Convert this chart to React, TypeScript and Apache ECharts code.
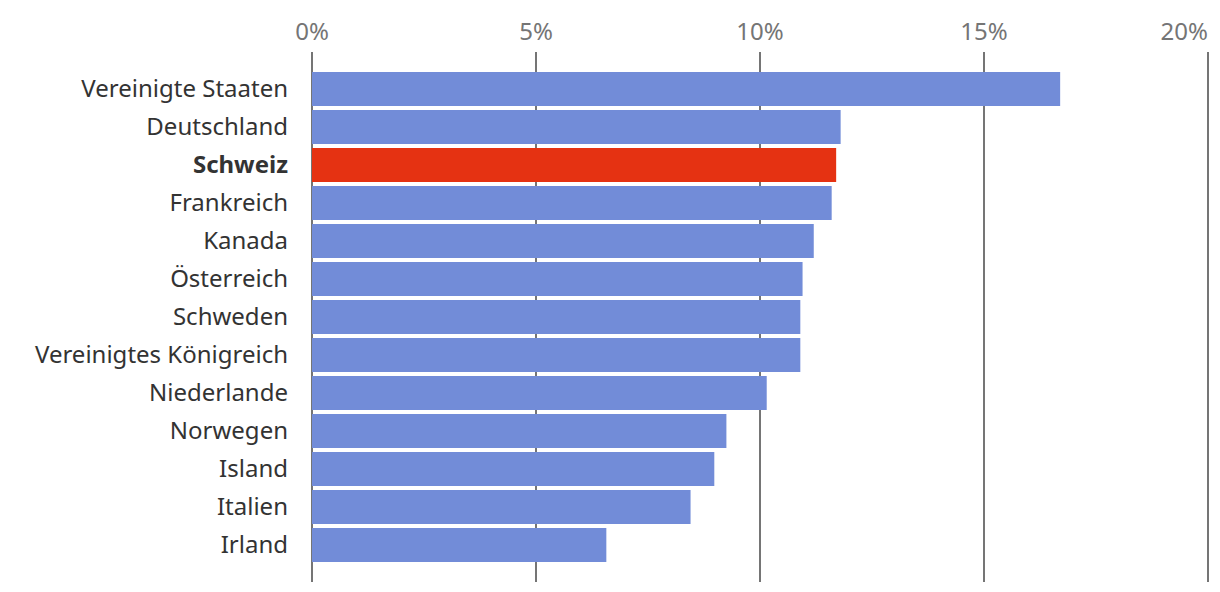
import React, { useEffect, useRef } from "react";
import * as echarts from "echarts";

const categories = [
  "Vereinigte Staaten",
  "Deutschland",
  "Schweiz",
  "Frankreich",
  "Kanada",
  "Österreich",
  "Schweden",
  "Vereinigtes Königreich",
  "Niederlande",
  "Norwegen",
  "Island",
  "Italien",
  "Irland",
];
const values = [16.7, 11.8, 11.7, 11.6, 11.2, 10.95, 10.9, 10.9, 10.15, 9.25, 8.98, 8.45, 6.57];
const highlight = "Schweiz";
const xTicks = [0, 5, 10, 15, 20];

const BLUE = "#728cd8";
const RED = "#e53212";
const FONT = "Noto Sans";

export default function App() {
  const ref = useRef<HTMLDivElement>(null);
  useEffect(() => {
    if (!ref.current) return;
    const chart = echarts.init(ref.current, null, { renderer: "svg" });
    chart.setOption({
      animation: false,
      grid: [
        { left: 312, right: 12, top: 52, bottom: 10 },
        { left: 312, right: 12, top: 70, height: 494 },
      ],
      xAxis: [
        {
          gridIndex: 0,
          type: "value",
          position: "top",
          min: xTicks[0],
          max: xTicks[xTicks.length - 1],
          interval: 5,
          axisLine: { show: false },
          axisTick: { show: false },
          splitLine: { show: true, lineStyle: { color: "#757575", width: 2 } },
          axisLabel: {
            formatter: "{value}%",
            color: "#757575",
            fontFamily: FONT,
            fontSize: 24,
            margin: 10,
            alignMaxLabel: "right",
          },
        },
        {
          gridIndex: 1,
          type: "value",
          min: xTicks[0],
          max: xTicks[xTicks.length - 1],
          show: false,
        },
      ],
      yAxis: [
        {
          gridIndex: 0,
          type: "category",
          data: [],
          show: false,
        },
        {
          gridIndex: 1,
          type: "category",
          inverse: true,
          data: categories,
          axisLine: { show: false },
          axisTick: { show: false },
          axisLabel: {
            margin: 24,
            fontFamily: FONT,
            fontSize: 24,
            color: "#333333",
            padding: [0, 0, 4, 0],
            formatter: (v: string) => (v === highlight ? `{b|${v}}` : v),
            rich: {
              b: { fontWeight: "bold", fontFamily: FONT, fontSize: 24, color: "#333333" },
            },
          },
        },
      ],
      series: [
        {
          type: "bar",
          xAxisIndex: 1,
          yAxisIndex: 1,
          barWidth: 34,
          data: values.map((v, i) => ({
            value: v,
            itemStyle: { color: categories[i] === highlight ? RED : BLUE },
          })),
        },
      ],
    });
    return () => chart.dispose();
  }, []);
  return <div ref={ref} style={{ width: 1220, height: 592, margin: -8 }} />;
}
